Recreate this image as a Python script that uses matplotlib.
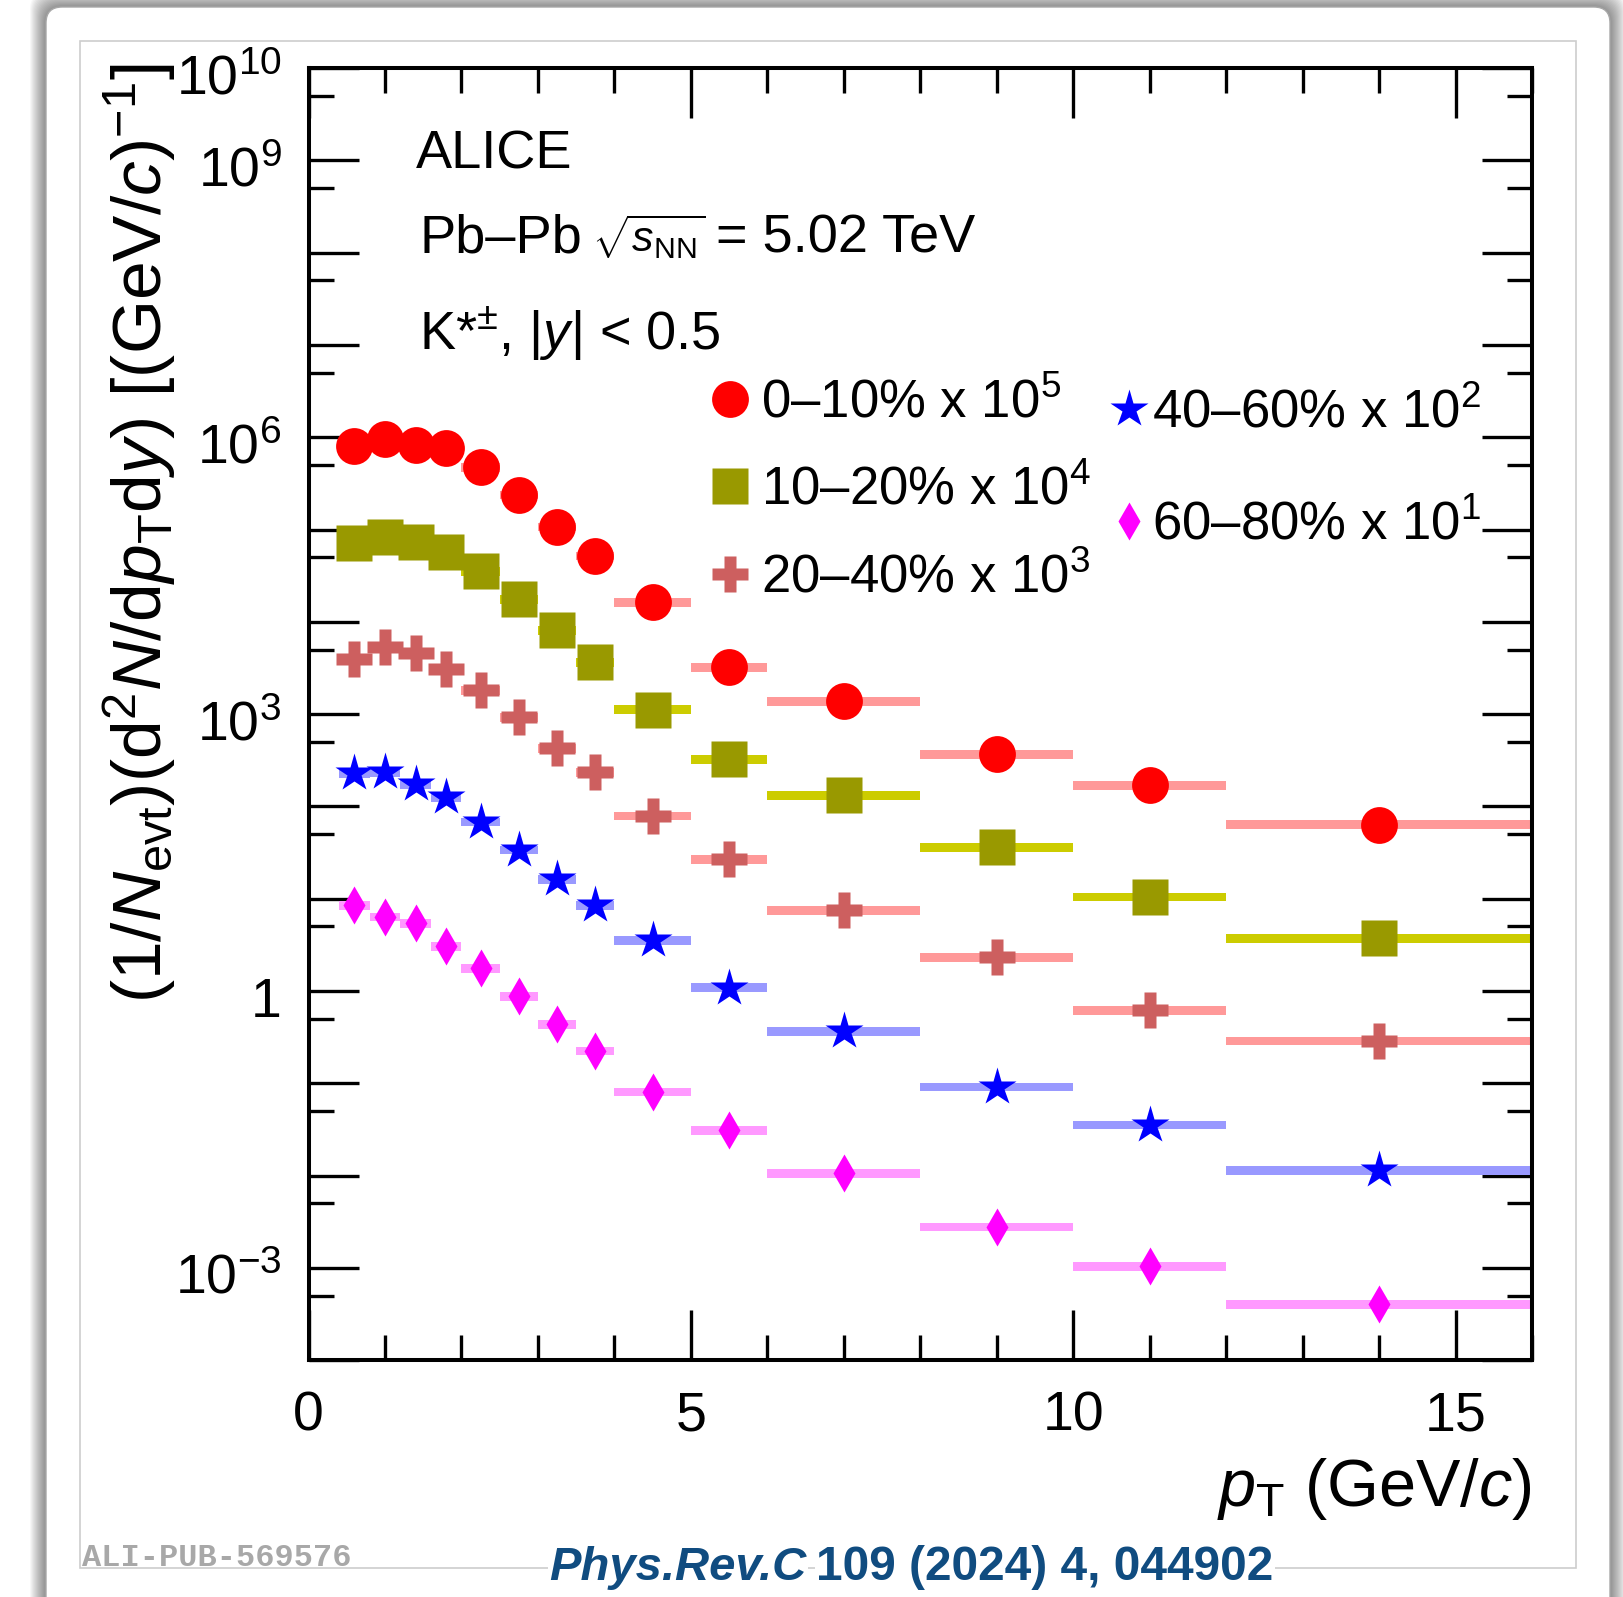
import numpy as np
import matplotlib
matplotlib.use("Agg")
import matplotlib.pyplot as plt
from matplotlib.ticker import LogLocator, MultipleLocator, NullFormatter
from matplotlib.patches import FancyBboxPatch, Rectangle
from matplotlib.transforms import blended_transform_factory, offset_copy

plt.rcParams['font.family'] = ['Liberation Sans', 'DejaVu Sans']
plt.rcParams['mathtext.fontset'] = 'custom'
plt.rcParams['mathtext.rm'] = 'Liberation Sans'
plt.rcParams['mathtext.it'] = 'Liberation Sans:italic'
plt.rcParams['mathtext.bf'] = 'Liberation Sans:bold'

# pT binning (GeV/c)
pt_low = [0.4, 0.8, 1.2, 1.6, 2.0, 2.5, 3.0, 3.5, 4.0, 5.0, 6.0, 8.0, 10.0, 12.0]
pt_high = [0.8, 1.2, 1.6, 2.0, 2.5, 3.0, 3.5, 4.0, 5.0, 6.0, 8.0, 10.0, 12.0, 16.0]
pt_center = [0.6, 1.0, 1.4, 1.8, 2.25, 2.75, 3.25, 3.75, 4.5, 5.5, 7.0, 9.0, 11.0, 14.0]

# K*± yields per centrality class (unscaled)
yield_0_10 = [8.03, 9.49, 8.17, 7.58, 4.72, 2.38, 1.07, 0.520, 0.163,
              3.21e-2, 1.38e-2, 3.70e-3, 1.71e-3, 6.34e-4]
yield_10_20 = [7.19, 8.22, 7.26, 5.66, 3.52, 1.75, 0.807, 0.363, 0.112,
               3.26e-2, 1.32e-2, 3.60e-3, 1.05e-3, 3.72e-4]
yield_20_40 = [3.97, 5.36, 4.64, 3.10, 1.81, 0.923, 0.425, 0.234, 7.91e-2,
               2.69e-2, 7.46e-3, 2.31e-3, 6.21e-4, 2.89e-4]
yield_40_60 = [2.31, 2.33, 1.75, 1.26, 0.681, 0.339, 0.163, 8.52e-2, 3.53e-2,
               1.09e-2, 3.68e-3, 9.17e-4, 3.55e-4, 1.15e-4]
yield_60_80 = [0.852, 0.637, 0.540, 0.306, 0.176, 8.81e-2, 4.38e-2, 2.25e-2, 8.09e-3,
               3.11e-3, 1.07e-3, 2.79e-4, 1.05e-4, 4.05e-5]

centralities = ["0\u201310%", "10\u201320%", "20\u201340%", "40\u201360%", "60\u201380%"]
scale_exp = [5, 4, 3, 2, 1]
yields = [yield_0_10, yield_10_20, yield_20_40, yield_40_60, yield_60_80]
sys_rel = 0.11  # relative systematic uncertainty (boxes)

# decades that carry a y-axis label
y_label_exps = [10, 9, 6, 3, 0, -3]

marker_style = ['o', 's', 'P', '*', 'd']
marker_size = [26.5, 26.5, 26.5, 28.5, 19.5]
marker_color = ['#ff0000', '#999900', '#cd5f5f', '#0000ff', '#ff00ff']
box_color = ['#ff9999', '#cccc00', '#ff9999', '#9999ff', '#ff99ff']

W, H = 1623, 1597
DPI = 100
fig = plt.figure(figsize=(W / DPI, H / DPI), dpi=DPI, facecolor='white')


def fx(px):
    return px / W


def fy(py):
    return 1.0 - py / H


# canvas card with soft drop shadow
card_l, card_r, card_t, card_b = 46, 1610, 7, 1660
for i in range(16, 0, -1):
    sh = FancyBboxPatch((fx(card_l - i), fy(card_b + i)),
                        fx(card_r - card_l + 2 * i), (card_b - card_t + 2 * i) / H,
                        boxstyle="round,pad=0,rounding_size=0.012",
                        transform=fig.transFigure, facecolor='black',
                        edgecolor='none', alpha=0.032, zorder=-20)
    fig.add_artist(sh)
card = FancyBboxPatch((fx(card_l), fy(card_b)), fx(card_r - card_l), (card_b - card_t) / H,
                      boxstyle="round,pad=0,rounding_size=0.010",
                      transform=fig.transFigure, facecolor='white',
                      edgecolor='#a8a8a8', linewidth=1.0, zorder=-10)
fig.add_artist(card)
inner = Rectangle((fx(80), fy(1568)), fx(1576 - 80), (1568 - 40.5) / H,
                  transform=fig.transFigure, facecolor='none',
                  edgecolor='#cdcdcd', linewidth=1.2, zorder=-5)
fig.add_artist(inner)

ax_l, ax_r, ax_t, ax_b = 308.5, 1532, 68, 1360.2
ax = fig.add_axes([fx(ax_l), fy(ax_b), fx(ax_r - ax_l), (ax_b - ax_t) / H])
ax.set_facecolor('none')
ax.set_xlim(0, 16)
ax.set_yscale('log')
ax.set_ylim(1e-4, 1e10)

widths = np.array(pt_high) - np.array(pt_low)
handles = []
for k in range(5):
    y = np.array(yields[k]) * 10.0 ** scale_exp[k]
    ax.bar(pt_center, y * (1 + sys_rel) - y * (1 - sys_rel), bottom=y * (1 - sys_rel),
           width=widths, color=box_color[k], linewidth=0, zorder=2)
    h, = ax.plot(pt_center, y, ls='none', marker=marker_style[k], ms=marker_size[k],
                 color=marker_color[k], mec='none', zorder=3,
                 label=f"{centralities[k]} x $10^{{{scale_exp[k]}}}$")
    handles.append(h)

# axes styling
for sp in ax.spines.values():
    sp.set_linewidth(2.9)
ax.xaxis.set_major_locator(MultipleLocator(5))
ax.xaxis.set_minor_locator(MultipleLocator(1))
ax.yaxis.set_major_locator(LogLocator(base=10, numticks=30))
ax.yaxis.set_minor_locator(LogLocator(base=10, subs=[5.0], numticks=30))
ax.yaxis.set_major_formatter(NullFormatter())
ax.yaxis.set_minor_formatter(NullFormatter())
ax.tick_params(which='both', direction='in', top=True, right=True, width=2.4, labelsize=40)
ax.tick_params(which='major', length=36)
ax.tick_params(which='minor', length=18)
ax.tick_params(axis='x', which='major', pad=22)

# y-axis decade labels, set slightly below their ticks
ylab_trans = offset_copy(blended_transform_factory(ax.transAxes, ax.transData),
                         fig=fig, x=-27, y=-26, units='dots')
for e in y_label_exps:
    txt = '1' if e == 0 else r'$10^{%d}$' % e
    ax.text(0, 10.0 ** e, txt, transform=ylab_trans, ha='right', va='baseline',
            fontsize=40, clip_on=False)

# axis titles
fig.text(fx(140), fy(533),
         r'$(1/N_{\rm evt})({\rm d}^{2}N/{\rm d}p_{\rm T}{\rm d}y)\ [({\rm GeV}/c)^{-1}]$',
         rotation=90, ha='center', va='center', fontsize=50)
fig.text(fx(1532), fy(1506), r'$p_{\rm T}$ (GeV/$c$)', ha='right', va='baseline', fontsize=48)

# labels inside the frame
fig.text(fx(416), fy(168.7), 'ALICE', ha='left', va='baseline', fontsize=39)
fig.text(fx(419), fy(252.5), 'Pb\u2013Pb', ha='left', va='baseline', fontsize=39)
fig.text(fx(592), fy(252.5), r'$\sqrt{s_{\rm NN}}$', ha='left', va='baseline', fontsize=31)
fig.text(fx(716), fy(252.5), '= 5.02 TeV', ha='left', va='baseline', fontsize=39)
fig.text(fx(419), fy(350), r'K*$^{\pm}$, |$y$| < 0.5', ha='left', va='baseline', fontsize=39)

leg1 = ax.legend(handles=handles[:3], loc='upper left',
                 bbox_to_anchor=(fx(712), fy(378)), bbox_transform=fig.transFigure,
                 frameon=False, fontsize=38, handlelength=0.7, handletextpad=0.22,
                 labelspacing=0.71, borderpad=0, borderaxespad=0)
ax.add_artist(leg1)
ax.legend(handles=handles[3:], loc='upper left',
          bbox_to_anchor=(fx(1111), fy(388)), bbox_transform=fig.transFigure,
          frameon=False, fontsize=38, handlelength=0.7, handletextpad=0.07,
          labelspacing=1.18, borderpad=0, borderaxespad=0)

# footer
fig.text(fx(82), fy(1566), 'ALI-PUB-569576', ha='left', va='baseline',
         fontsize=23, family='Liberation Mono', fontweight='bold', color='#a8a8a8')
ref_a = fig.text(fx(549), fy(1580), 'Phys.Rev.C', ha='left', va='baseline',
                 fontsize=34, fontweight='bold', fontstyle='italic', color='#104c80',
                 bbox=dict(facecolor='white', edgecolor='none', pad=1.0))
fig.canvas.draw()
ext = ref_a.get_window_extent(renderer=fig.canvas.get_renderer())
fig.text((ext.x1 + 10) / W, fy(1580), '109 (2024) 4, 044902', ha='left', va='baseline',
         fontsize=34.5, fontweight='bold', color='#104c80',
         bbox=dict(facecolor='white', edgecolor='none', pad=1.0))

fig.savefig('out.png', dpi=DPI, facecolor=fig.get_facecolor())
